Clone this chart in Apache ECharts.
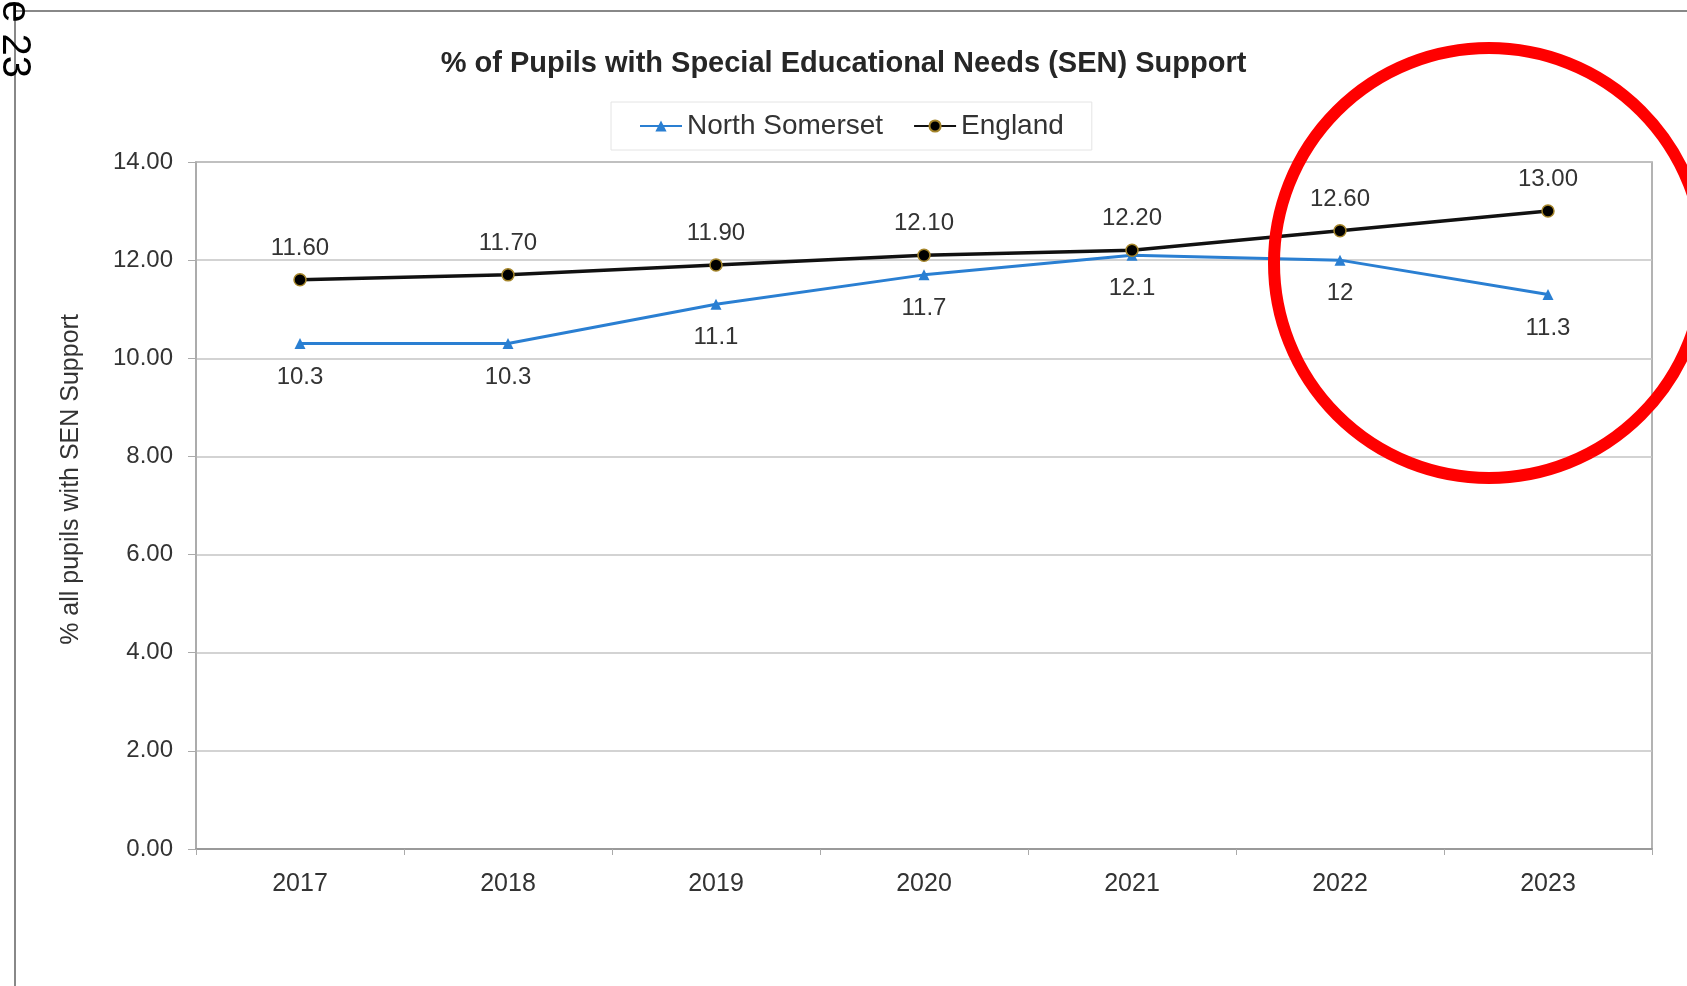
<!DOCTYPE html>
<html>
<head>
<meta charset="utf-8">
<script src="https://cdn.jsdelivr.net/npm/echarts@6/dist/echarts.min.js"></script>
<style>html,body{margin:0;padding:0;background:#fff}#c{width:1687px;height:986px}</style>
</head>
<body>
<div id="c"></div>
<script>
const years = ['2017','2018','2019','2020','2021','2022','2023'];
const northSomerset = [10.3, 10.3, 11.1, 11.7, 12.1, 12, 11.3];
const england = [11.6, 11.7, 11.9, 12.1, 12.2, 12.6, 13.0];
const yTicks = {min: 0, max: 14, interval: 2};
const titleText = '% of Pupils with Special Educational Needs (SEN) Support';
const yName = '% all pupils with SEN Support';

const chart = echarts.init(document.getElementById('c'));
const font = 'Liberation Sans, Arial, sans-serif';
chart.setOption({
  backgroundColor: '#fff',
  animation: false,
  title: {
    text: titleText, left: 'center', top: 44,
    textStyle: {fontFamily: font, fontSize: 29, fontWeight: 'bold', color: '#262626'}
  },
  legend: {
    top: 102, left: 611, width: 484,
    padding: [10, 28, 10, 28],
    borderColor: '#e4e4e4', borderWidth: 1,
    itemWidth: 42, itemHeight: 14, itemGap: 30,
    textStyle: {fontFamily: font, fontSize: 28, color: '#333'},
    data: ['North Somerset', 'England']
  },
  grid: {left: 196, right: 35, top: 162, bottom: 137, show: true, borderColor: '#9a9a9a', borderWidth: 1.5},
  xAxis: {
    type: 'category', data: years, boundaryGap: true,
    axisLine: {lineStyle: {color: '#9a9a9a', width: 2}},
    axisTick: {show: true, length: 6, lineStyle: {color: '#aaa'}},
    axisLabel: {fontFamily: font, fontSize: 25, color: '#333', margin: 23}
  },
  yAxis: {
    type: 'value', min: yTicks.min, max: yTicks.max, interval: yTicks.interval,
    name: yName, nameLocation: 'middle', nameGap: 112, nameRotate: 90,
    nameTextStyle: {fontFamily: font, fontSize: 25, color: '#333', padding: [0, 0, 0, 52]},
    axisLine: {show: true, lineStyle: {color: '#aaa', width: 1.5}},
    axisTick: {show: true, length: 8, lineStyle: {color: '#aaa'}},
    axisLabel: {fontFamily: font, fontSize: 24, color: '#333', margin: 23, formatter: v => v.toFixed(2)},
    splitLine: {lineStyle: {color: '#c4c4c4', width: 1.5}}
  },
  series: [
    {
      name: 'North Somerset', type: 'line', data: northSomerset,
      symbol: 'triangle', symbolSize: 11,
      lineStyle: {color: '#2a7fd2', width: 3},
      itemStyle: {color: '#2a7fd2'},
      label: {show: true, position: 'bottom', distance: 16, fontFamily: font, fontSize: 24, color: '#333'},
      z: 2
    },
    {
      name: 'England', type: 'line', data: england,
      symbol: 'circle', symbolSize: 12,
      lineStyle: {color: '#111', width: 3.5},
      itemStyle: {color: '#000', borderColor: '#a5852a', borderWidth: 1.5},
      label: {show: true, position: 'top', distance: 13, fontFamily: font, fontSize: 24, color: '#333', formatter: p => p.value.toFixed(2)},
      z: 3
    }
  ],
  graphic: [
    {type: 'line', shape: {x1: 15, y1: 11, x2: 1687, y2: 11}, style: {stroke: '#888', lineWidth: 2}},
    {type: 'line', shape: {x1: 15, y1: 11, x2: 15, y2: 986}, style: {stroke: '#888', lineWidth: 2}},
    {type: 'text', x: -6, y: 78, rotation: -Math.PI / 2,
      style: {text: 'Page 23', fontFamily: font, fontSize: 40, fill: '#000', align: 'right', verticalAlign: 'bottom'}},
    {type: 'circle', shape: {cx: 1489, cy: 263, r: 215}, style: {fill: null, stroke: '#ff0000', lineWidth: 12}, z: 100}
  ]
});
</script>
</body>
</html>
